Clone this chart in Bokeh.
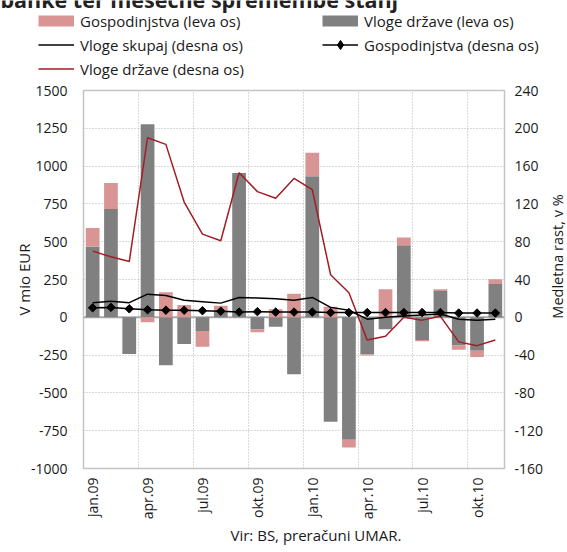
import numpy as np
from math import pi
from bokeh.plotting import figure
from bokeh.layouts import column, row
from bokeh.models import (Range1d, LinearAxis, FixedTicker, Legend, LegendItem,
                          Label, Span, Title)
from bokeh.embed import file_html
from bokeh.resources import INLINE

# ---------------- data ----------------
months = ["jan.09", "feb.09", "mar.09", "apr.09", "maj.09", "jun.09",
          "jul.09", "avg.09", "sep.09", "okt.09", "nov.09", "dec.09",
          "jan.10", "feb.10", "mar.10", "apr.10", "maj.10", "jun.10",
          "jul.10", "avg.10", "sep.10", "okt.10", "nov.10"]

# monthly changes, EUR million (left axis)
gov_change = [466, 717, -242, 1276, -317, -176, -90, 45, 955, -79, -62, -376,
              933, -691, -810, -244, -79, 477, -150, 174, -185, -222, 220]
hh_change = [125, 172, 0, -33, 165, 81, -104, 32, 0, -20, 53, 156,
             156, 70, -51, -9, 185, 51, -9, 11, -29, -40, 31]

# y/y growth, % (right axis)
total_growth = [15.5, 17, 15.5, 24.5, 23, 18, 16.5, 15, 21, 20.5, 19.5, 18,
                21, 10.5, 7.5, -2, 0, 1.5, 2.5, 3.5, -2, -3, -2]
hh_growth = [10, 10.5, 9, 8, 7.5, 7.5, 7, 6.5, 5.5, 6, 5.5, 5.5,
             5.5, 5, 5, 5, 5, 5, 5, 5, 4.5, 4.5, 4.5]
gov_growth = [70, 64, 59, 190, 183, 122, 88, 81, 153, 133, 126, 147,
              135, 45, 26, -24, -20, 0, -3, 1, -26, -30, -24]

left_ticks = [-1000, -750, -500, -250, 0, 250, 500, 750, 1000, 1250, 1500]
right_ticks = [-160, -120, -80, -40, 0, 40, 80, 120, 160, 200, 240]
x_label_months = ["jan.09", "apr.09", "jul.09", "okt.09",
                  "jan.10", "apr.10", "jul.10", "okt.10"]

title_text = "banke ter mesečne spremembe stanj"
left_title = "V mio EUR"
right_title = "Medletna rast, v %"
source_text = "Vir: BS, preračuni UMAR."

# ---------------- styles ----------------
FONT = "Open Sans"
PINK = "#d99594"
GRAY = "#808080"
RED = "#a31d24"
BLACK = "#000000"
TXT = "#1a1a1a"
W = 567
TOP_H = 80
MAIN_H = 552 - TOP_H
STRIP_W = 21            # narrow strip carrying the right axis title
MAIN_W = W - STRIP_W
NAN = [float("nan")]


def no_align(f):
    try:
        f.frame_align = False
    except Exception:
        pass


# ---------------- top strip: (cropped) title + legend ----------------
lf = figure(width=W, height=TOP_H, output_backend="svg", toolbar_location=None,
            x_range=Range1d(0, 1), y_range=Range1d(0, 1),
            x_axis_location=None, y_axis_location=None,
            min_border=0, outline_line_color=None)
lf.grid.visible = False
lf.background_fill_color = "white"
lf.border_fill_color = "white"
no_align(lf)

# legend keys only (a single NaN point: nothing drawn in the strip itself)
pink_key = lf.line(x=NAN, y=NAN, line_color=PINK, line_width=11)
gray_key = lf.line(x=NAN, y=NAN, line_color=GRAY, line_width=11)
total_key = lf.line(x=NAN, y=NAN, line_color=BLACK, line_width=1.5)
gov_key = lf.line(x=NAN, y=NAN, line_color=RED, line_width=1.5)
hh_key = lf.line(x=NAN, y=NAN, line_color=BLACK, line_width=1.5)
diam_key = lf.scatter(x=NAN, y=NAN, marker="diamond", fill_color=BLACK,
                      line_color=BLACK)


def make_legend(items, loc):
    return Legend(items=items, location=loc, orientation="vertical",
                  glyph_width=36, glyph_height=23, label_height=23,
                  label_standoff=6, spacing=1, padding=0, margin=0,
                  border_line_color=None, background_fill_alpha=0,
                  label_text_font=FONT, label_text_font_size="15px",
                  label_text_color=TXT)


legA = make_legend([
    LegendItem(label="Gospodinjstva (leva os)", renderers=[pink_key]),
    LegendItem(label="Vloge skupaj (desna os)", renderers=[total_key]),
    LegendItem(label="Vloge države (desna os)", renderers=[gov_key]),
], (38, 0))
legB = make_legend([
    LegendItem(label="Vloge države (leva os)", renderers=[gray_key]),
    LegendItem(label="Gospodinjstva (desna os)", renderers=[hh_key, diam_key]),
], (322, 24))
lf.add_layout(legA)
lf.add_layout(legB)

# the chart title is cropped by the top edge in the reference
lf.add_layout(Label(x=0, y=TOP_H + 1.5, x_units="screen", y_units="screen",
                    text=title_text, text_baseline="alphabetic",
                    text_font=FONT, text_font_size="21.5px",
                    text_font_style="bold", text_color="#222222"))

# ---------------- main chart ----------------
x = np.arange(len(months))
g = np.array(gov_change, dtype=float)
h = np.array(hh_change, dtype=float)
h_bottom = np.where(h >= 0, np.maximum(g, 0), np.minimum(g, 0))
h_top = h_bottom + h

p = figure(width=MAIN_W, height=MAIN_H, output_backend="svg",
           toolbar_location=None,
           x_range=Range1d(-0.5, len(months) - 0.5),
           y_range=Range1d(left_ticks[0], left_ticks[-1]),
           min_border_left=83, min_border_right=MAIN_W - 504,
           min_border_top=10, min_border_bottom=84)
p.extra_y_ranges = {"r": Range1d(right_ticks[0], right_ticks[-1])}
p.background_fill_color = "white"
p.border_fill_color = "white"
p.outline_line_color = "#c4c4c4"
p.outline_line_width = 1.5
no_align(p)

# grids
tick_idx = [months.index(m) for m in x_label_months]
p.xgrid.ticker = FixedTicker(ticks=[i - 0.5 for i in tick_idx if i > 0])
p.ygrid.ticker = FixedTicker(ticks=left_ticks)
for gr in (p.xgrid, p.ygrid):
    gr.grid_line_color = "#b5b5b5"
    gr.grid_line_dash = "1 2"
    gr.grid_line_width = 1

# x axis
xa = p.xaxis[0]
xa.ticker = FixedTicker(ticks=tick_idx)
xa.major_label_overrides = {i: months[i] for i in tick_idx}
xa.major_label_orientation = pi / 2
xa.major_label_standoff = 9
xa.major_tick_out = 0
xa.major_tick_in = 0
xa.minor_tick_out = 0
xa.axis_line_color = None
xa.major_label_text_font = FONT
xa.major_label_text_font_size = "14px"
xa.major_label_text_color = TXT

# source line under the chart
p.add_layout(Title(text=source_text, align="left", offset=147, standoff=0,
                   vertical_align="bottom",
                   text_font=FONT, text_font_size="15px",
                   text_font_style="normal", text_color=TXT), "below")

# left axis
ya = p.yaxis[0]
ya.ticker = FixedTicker(ticks=left_ticks)
ya.major_label_overrides = {t: str(t) for t in left_ticks}
ya.major_tick_out = 0
ya.major_tick_in = 0
ya.minor_tick_out = 0
ya.axis_line_color = None
ya.major_label_standoff = 16
ya.major_label_text_font = FONT
ya.major_label_text_font_size = "14px"
ya.major_label_text_color = TXT
ya.axis_label = left_title
ya.axis_label_text_font = FONT
ya.axis_label_text_font_size = "15px"
ya.axis_label_text_font_style = "normal"
ya.axis_label_text_color = TXT
ya.axis_label_standoff = -6

# right axis (tick labels only; its title is in the strip to the right)
ra = LinearAxis(y_range_name="r", ticker=FixedTicker(ticks=right_ticks))
ra.major_label_overrides = {t: str(t) for t in right_ticks}
ra.major_tick_out = 0
ra.major_tick_in = 0
ra.minor_tick_out = 0
ra.axis_line_color = None
ra.major_label_standoff = 10
ra.major_label_text_font = FONT
ra.major_label_text_font_size = "14px"
ra.major_label_text_color = TXT
p.add_layout(ra, "right")

# bars
p.vbar(x=x, bottom=0, top=g, width=0.75, fill_color=GRAY, line_color=None)
p.vbar(x=x, bottom=h_bottom, top=h_top, width=0.75, fill_color=PINK, line_color=None)

p.add_layout(Span(location=0, dimension="width", line_color="#a8a8a8",
                  line_width=2, level="underlay"))

# lines
p.line(x, gov_growth, y_range_name="r", line_color=RED, line_width=1.5)
p.line(x, total_growth, y_range_name="r", line_color=BLACK, line_width=1.5)
p.line(x, hh_growth, y_range_name="r", line_color=BLACK, line_width=1.5)
p.scatter(x, hh_growth, y_range_name="r", marker="square", angle=pi / 4,
          size=6, fill_color=BLACK, line_color=BLACK)

# ---------------- right strip: right axis title ----------------
rf = figure(width=STRIP_W, height=MAIN_H, output_backend="svg",
            toolbar_location=None, x_range=Range1d(0, 1), y_range=Range1d(0, 1),
            x_axis_location=None, y_axis_location=None,
            min_border=0, outline_line_color=None)
rf.grid.visible = False
rf.background_fill_color = "white"
rf.border_fill_color = "white"
no_align(rf)
rf.add_layout(Label(x=STRIP_W / 2, y=MAIN_H - (256 - TOP_H), x_units="screen",
                    y_units="screen", text=right_title, angle=pi / 2,
                    text_align="center", text_baseline="middle",
                    text_font=FONT, text_font_size="14.5px", text_color=TXT))

layout = column(lf, row(p, rf, spacing=0), spacing=0)
open("out.html", "w").write(file_html(layout, INLINE))
